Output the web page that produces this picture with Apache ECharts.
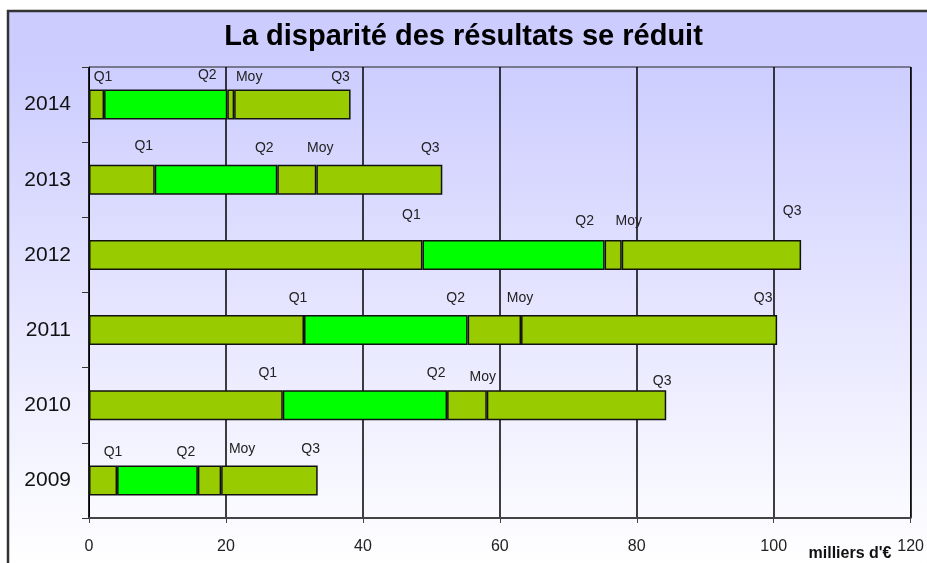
<!DOCTYPE html>
<html>
<head>
<meta charset="utf-8">
<script src="https://cdn.jsdelivr.net/npm/echarts@6/dist/echarts.min.js"></script>
<style>
html, body { margin: 0; padding: 0; background: #fff; }
#chart { width: 927px; height: 563px; }
</style>
</head>
<body>
<div id="chart"></div>
<script>
/** ----------------données----------------------------------------------- */
var annees = ['2009', '2010', '2011', '2012', '2013', '2014'];
var q1  = [4.1, 28.3, 31.4, 48.7, 9.6, 2.2];
var q2  = [15.9, 52.3, 55.3, 75.3, 27.5, 20.2];
var moy = [19.3, 58.1, 63.1, 77.8, 33.2, 21.2];
var q3  = [33.4, 84.3, 100.5, 104.0, 51.6, 38.2];
var nomsSeries = ['Q1', 'Q2', 'Moy', 'Q3'];
var xMin = 0, xMax = 120, xPas = 20;

// décalage des étiquettes (placées à la main dans l'original), par série puis par année
var decalages = [
	[[-4, -13], [-15, -17], [-6, -17], [-11, -25], [-11, -19], [-1, -12]],
	[[-12, -13], [-11, -17], [-12, -17], [-20, -19], [-13, -17], [-20, -14]],
	[[21, -16], [-4, -13], [-1, -17], [7, -19], [4, -17], [15, -12]],
	[[-7, -16], [-4, -9], [-14, -17], [-9, -29], [-12, -17], [-10, -12]]
];
var couleurs = ['#99CC00', '#00FF00', '#99CC00', '#99CC00'];

/** --------construction des séries empilées ------ */
function buildSeries() {
	var bornes = [q1, q2, moy, q3];
	var series = [];
	for (var s = 0; s < bornes.length; s++) {
		var data = [];
		for (var i = 0; i < annees.length; i++) {
			var debut = s == 0 ? 0 : bornes[s - 1][i];
			data.push({
				value: +(bornes[s][i] - debut).toFixed(2),
				label: { offset: decalages[s][i] }
			});
		}
		series.push({
			name: nomsSeries[s],
			type: 'bar',
			stack: 'total',
			barWidth: 30,
			itemStyle: {
				color: couleurs[s],
				borderColor: '#111',
				borderWidth: 1.5
			},
			label: {
				show: true,
				position: ['100%', 0],
				align: 'center',
				verticalAlign: 'middle',
				formatter: nomsSeries[s],
				fontSize: 14,
				color: '#222'
			},
			emphasis: { disabled: true },
			data: data
		});
	}
	return series;
}

var chart = echarts.init(document.getElementById('chart'));
var option = {
	animation: false,
	backgroundColor: '#ffffff',
	textStyle: { fontFamily: 'Arial, "Liberation Sans", sans-serif' },
	graphic: [
		{
			type: 'rect',
			z: -100,
			silent: true,
			shape: { x: 8, y: 11, width: 940, height: 600 },
			style: {
				fill: new echarts.graphic.LinearGradient(0, 0, 0, 1, [
					{ offset: 0, color: '#CCCCFF' },
					{ offset: 0.08, color: '#CCCCFF' },
					{ offset: 0.92, color: '#FFFFFF' },
					{ offset: 1, color: '#FFFFFF' }
				]),
				stroke: '#333',
				lineWidth: 2.5
			}
		},
		{
			type: 'text',
			silent: true,
			style: {
				text: "milliers d'€",
				x: 850,
				y: 546,
				align: 'center',
				verticalAlign: 'top',
				font: 'bold 16px Arial, "Liberation Sans", sans-serif',
				fill: '#111'
			}
		}
	],
	title: {
		text: 'La disparité des résultats se réduit',
		left: 'center',
		top: 17,
		textStyle: { fontSize: 29, fontWeight: 'bold', color: '#000' }
	},
	grid: {
		left: 89,
		right: 16,
		top: 67,
		bottom: 45,
		show: true,
		borderColor: '#222',
		borderWidth: 1,
		backgroundColor: 'transparent'
	},
	xAxis: {
		type: 'value',
		min: xMin,
		max: xMax,
		interval: xPas,
		axisLine: { show: true, lineStyle: { color: '#444', width: 2 } },
		axisTick: { show: true, length: 5, lineStyle: { color: '#444', width: 1 } },
		splitLine: { show: true, lineStyle: { color: '#000', width: 1.5 } },
		axisLabel: { fontSize: 16, color: '#222', margin: 21 }
	},
	yAxis: {
		type: 'category',
		data: annees,
		axisLine: { show: true, lineStyle: { color: '#000', width: 1 } },
		axisTick: { show: true, length: 7, lineStyle: { color: '#333' } },
		axisLabel: { fontSize: 21, color: '#111', margin: 18 }
	},
	series: buildSeries()
};
chart.setOption(option);
</script>
</body>
</html>
